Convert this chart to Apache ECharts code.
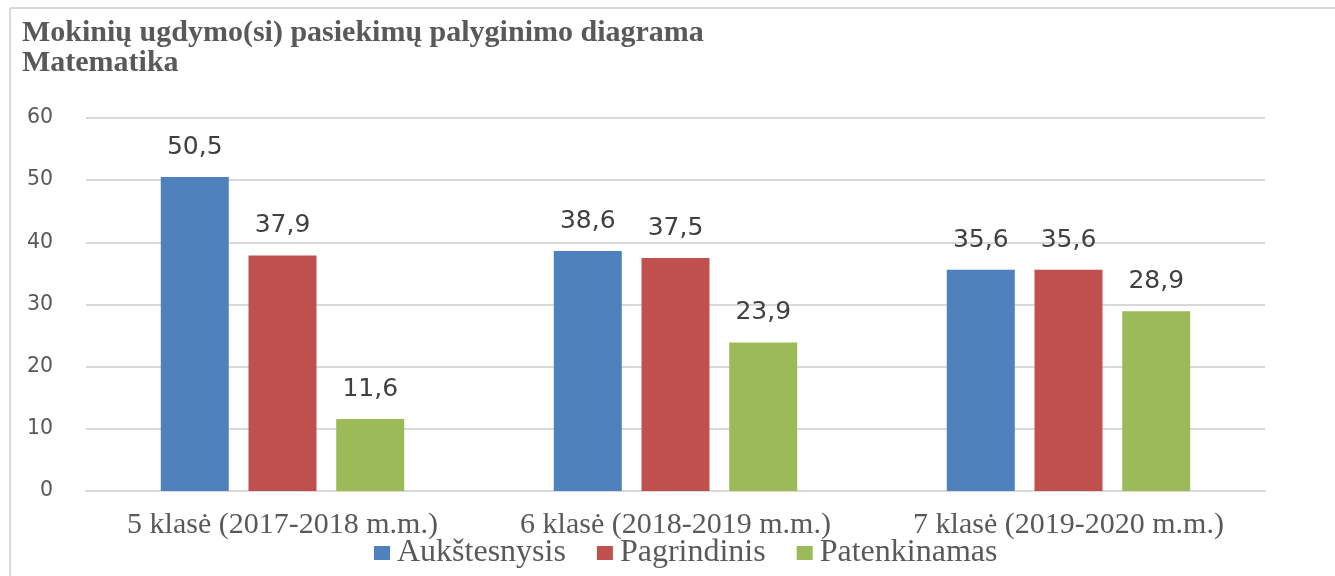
<!DOCTYPE html>
<html>
<head>
<meta charset="utf-8">
<script src="https://cdn.jsdelivr.net/npm/echarts@6/dist/echarts.min.js"></script>
<style>
  html, body { margin: 0; padding: 0; background: #fff; }
  #chart { width: 1335px; height: 576px; }
</style>
</head>
<body>
<div id="chart"></div>
<script>
const categories = ["5 klasė (2017-2018 m.m.)", "6 klasė (2018-2019 m.m.)", "7 klasė (2019-2020 m.m.)"];
const aukstesnysis = [50.5, 38.6, 35.6];
const pagrindinis = [37.9, 37.5, 35.6];
const patenkinamas = [11.6, 23.9, 28.9];

const serif = '"Liberation Serif", "Times New Roman", serif';
const sans = '"DejaVu Sans", sans-serif';
const grey = '#595959';

function bar(name, data, color) {
  return {
    name: name,
    type: 'bar',
    data: data,
    barWidth: 68,
    barGap: '29%',
    itemStyle: { color: color },
    label: {
      show: true,
      position: 'top',
      distance: 17,
      color: '#404040',
      fontFamily: sans,
      fontSize: 25,
      formatter: p => String(p.value).replace('.', ',')
    }
  };
}

const chart = echarts.init(document.getElementById('chart'));
chart.setOption({
  animation: false,
  title: {
    text: 'Mokinių ugdymo(si) pasiekimų palyginimo diagrama\nMatematika',
    left: 17,
    top: 13,
    textStyle: {
      fontFamily: serif,
      fontWeight: 'bold',
      fontSize: 30,
      lineHeight: 30,
      color: grey
    }
  },
  legend: {
    left: 374,
    top: 537,
    padding: 0,
    icon: 'rect',
    itemWidth: 16,
    itemHeight: 14,
    itemGap: 31,
    textStyle: { fontFamily: serif, fontSize: 32, color: grey, padding: [0, 0, 0, 2] },
    data: ['Aukštesnysis', 'Pagrindinis', 'Patenkinamas']
  },
  grid: { left: 86, right: 70, top: 118, bottom: 85 },
  xAxis: {
    type: 'category',
    data: categories,
    axisLine: { lineStyle: { color: '#d9d9d9', width: 2 } },
    axisTick: { show: false },
    axisLabel: { interval: 0, hideOverlap: false, margin: 19, fontFamily: serif, fontSize: 30, color: grey }
  },
  yAxis: {
    type: 'value',
    min: 0,
    max: 60,
    interval: 10,
    axisLabel: { margin: 33, fontFamily: sans, fontSize: 20.5, color: grey },
    splitLine: { lineStyle: { color: '#d9d9d9', width: 2 } }
  },
  graphic: [
    { type: 'line', shape: { x1: 10, y1: 8, x2: 1335, y2: 8 }, style: { stroke: '#d9d9d9', lineWidth: 2 } },
    { type: 'line', shape: { x1: 10, y1: 8, x2: 10, y2: 576 }, style: { stroke: '#d9d9d9', lineWidth: 2 } }
  ],
  series: [
    bar('Aukštesnysis', aukstesnysis, '#4F81BD'),
    bar('Pagrindinis', pagrindinis, '#C0504D'),
    bar('Patenkinamas', patenkinamas, '#9BBB59')
  ]
});
</script>
</body>
</html>
